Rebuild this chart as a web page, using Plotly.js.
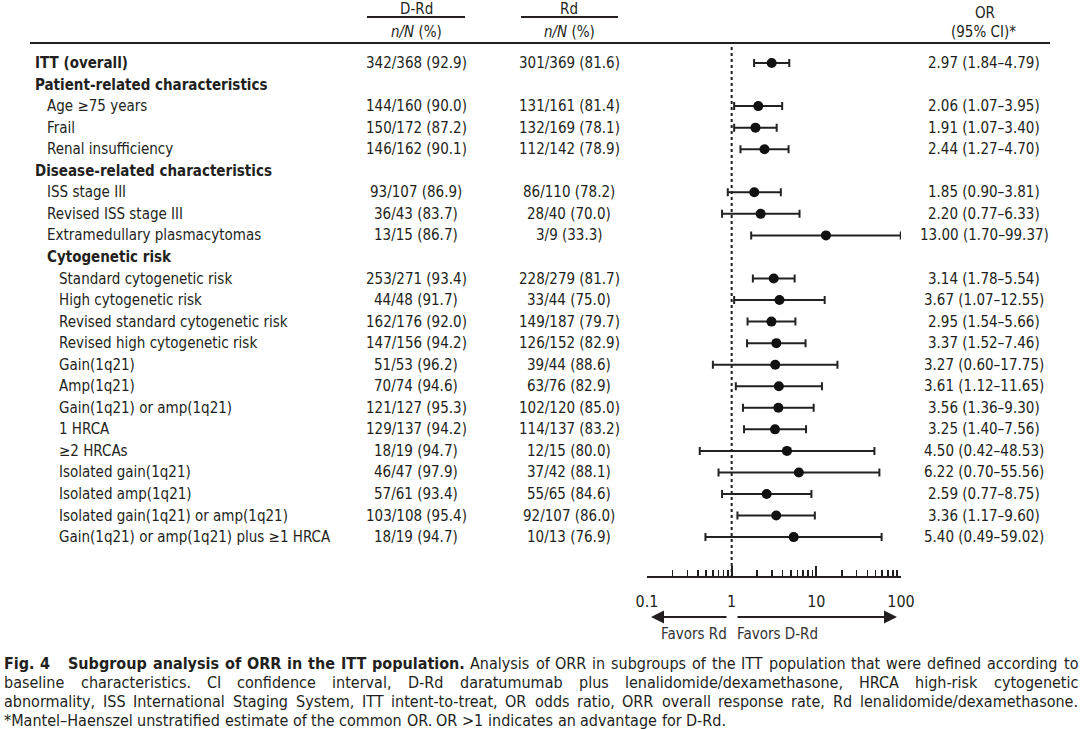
<!DOCTYPE html>
<html><head><meta charset="utf-8">
<script src="https://cdn.plot.ly/plotly-3.0.1.min.js"></script>
<style>html,body{margin:0;padding:0;background:#fff}#chart{width:1080px;height:729px}</style>
</head><body><div id="chart"></div>
<script>
// ---- data ----
const subgroups = ["ITT (overall)","Patient-related characteristics","Age \u226575 years","Frail","Renal insufficiency",
"Disease-related characteristics","ISS stage III","Revised ISS stage III","Extramedullary plasmacytomas",
"Cytogenetic risk","Standard cytogenetic risk","High cytogenetic risk","Revised standard cytogenetic risk",
"Revised high cytogenetic risk","Gain(1q21)","Amp(1q21)","Gain(1q21) or amp(1q21)","1 HRCA","\u22652 HRCAs",
"Isolated gain(1q21)","Isolated amp(1q21)","Isolated gain(1q21) or amp(1q21)","Gain(1q21) or amp(1q21) plus \u22651 HRCA"];
const levels = [0,0,1,1,1,0,1,1,1,1,2,2,2,2,2,2,2,2,2,2,2,2,2];
const isHeader = [true,true,false,false,false,true,false,false,false,true,false,false,false,false,false,false,false,false,false,false,false,false,false];
const drdText = ["342/368 (92.9)","","144/160 (90.0)","150/172 (87.2)","146/162 (90.1)","","93/107 (86.9)","36/43 (83.7)","13/15 (86.7)","",
"253/271 (93.4)","44/48 (91.7)","162/176 (92.0)","147/156 (94.2)","51/53 (96.2)","70/74 (94.6)","121/127 (95.3)","129/137 (94.2)","18/19 (94.7)","46/47 (97.9)","57/61 (93.4)","103/108 (95.4)","18/19 (94.7)"];
const rdText = ["301/369 (81.6)","","131/161 (81.4)","132/169 (78.1)","112/142 (78.9)","","86/110 (78.2)","28/40 (70.0)","3/9 (33.3)","",
"228/279 (81.7)","33/44 (75.0)","149/187 (79.7)","126/152 (82.9)","39/44 (88.6)","63/76 (82.9)","102/120 (85.0)","114/137 (83.2)","12/15 (80.0)","37/42 (88.1)","55/65 (84.6)","92/107 (86.0)","10/13 (76.9)"];
const oddsRatio = [2.97,null,2.06,1.91,2.44,null,1.85,2.20,13.00,null,3.14,3.67,2.95,3.37,3.27,3.61,3.56,3.25,4.50,6.22,2.59,3.36,5.40];
const ciLow = [1.84,null,1.07,1.07,1.27,null,0.90,0.77,1.70,null,1.78,1.07,1.54,1.52,0.60,1.12,1.36,1.40,0.42,0.70,0.77,1.17,0.49];
const ciHigh = [4.79,null,3.95,3.40,4.70,null,3.81,6.33,99.37,null,5.54,12.55,5.66,7.46,17.75,11.65,9.30,7.56,48.53,55.56,8.75,9.60,59.02];
const tickVals = [0.1,1,10,100];
const tickLabels = ["0.1","1","10","100"];
const minorTickVals = [0.2,0.3,0.4,0.5,0.6,0.7,0.8,0.9,2,3,4,5,6,7,8,9,20,30,40,50,60,70,80,90];
const captionLines = [
  [{t:"Fig. 4", b:true, gap:12}, {t:"Subgroup analysis of ORR in the ITT population.", b:true}, {t:"Analysis of ORR in subgroups of the ITT population that were defined according to", b:false}],
  [{t:"baseline characteristics. CI confidence interval, D-Rd daratumumab plus lenalidomide/dexamethasone, HRCA high-risk cytogenetic", b:false}],
  [{t:"abnormality, ISS International Staging System, ITT intent-to-treat, OR odds ratio, ORR overall response rate, Rd lenalidomide/dexamethasone.", b:false}],
  [{t:"*Mantel\u2013Haenszel unstratified estimate of the common OR. OR >1 indicates an advantage for D-Rd.", b:false}]
];
const captionJustify = [true, true, true, false];

// ---- layout helpers ----
const FAMILY = 'DejaVu Sans Condensed';
const FONT = '"DejaVu Sans Condensed", "Liberation Sans Narrow", sans-serif';
const TXT = '#231f20';
const L = 647, R = 901, W = 1080, PB = 576;
const xp = px => (px - L) / (R - L);
const yrow = px => (px - 63) / 21.55;
const yp = px => (PB - px) / PB;

const rows = subgroups.map((_, i) => i);
const fmt = v => v.toFixed(2);
const orText = oddsRatio.map((v, i) => v == null ? "" : fmt(v) + " (" + fmt(ciLow[i]) + "\u2013" + fmt(ciHigh[i]) + ")");

const ann = [];
const indentPx = [33, 45, 57];
const FS = 15;
subgroups.forEach((s, i) => {
  ann.push({xref:'paper', yref:'y', x: xp(indentPx[levels[i]]), y: i, xanchor:'left', yanchor:'middle', showarrow:false,
    text: isHeader[i] ? '<b>' + s + '</b>' : s, font:{family:FONT, size:FS, color:TXT}});
  if (drdText[i]) ann.push({xref:'paper', yref:'y', x: xp(416), y: i, xanchor:'center', yanchor:'middle', showarrow:false, text: drdText[i], font:{family:FONT, size:FS, color:TXT}});
  if (rdText[i]) ann.push({xref:'paper', yref:'y', x: xp(569), y: i, xanchor:'center', yanchor:'middle', showarrow:false, text: rdText[i], font:{family:FONT, size:FS, color:TXT}});
  if (orText[i]) ann.push({xref:'paper', yref:'y', x: xp(984), y: i, xanchor:'center', yanchor:'middle', showarrow:false, text: orText[i], font:{family:FONT, size:FS, color:TXT}});
});
// column headers
const hdr = (x, y, t) => ann.push({xref:'paper', yref:'y', x: xp(x), y: yrow(y), xanchor:'center', yanchor:'middle', showarrow:false, text:t, font:{family:FONT, size:15, color:TXT}, borderpad:0});
hdr(416, 9, 'D-Rd'); hdr(416, 32, '<i>n/N</i> (%)');
hdr(569, 9, 'Rd'); hdr(569, 32, '<i>n/N</i> (%)');
hdr(985, 13, 'OR'); hdr(983, 32, '(95% CI)*');

// arrows and favors text
ann.push({xref:'paper', yref:'paper', x: xp(651), y: yp(617), ax: 77, ay: 0, showarrow:true, arrowhead:2, arrowsize:1.3, arrowwidth:2, arrowcolor:TXT, text:''});
ann.push({xref:'paper', yref:'paper', x: xp(897), y: yp(617), ax: -161, ay: 0, showarrow:true, arrowhead:2, arrowsize:1.3, arrowwidth:2, arrowcolor:TXT, text:''});
ann.push({xref:'paper', yref:'paper', x: xp(729), y: yp(634), xanchor:'right', yanchor:'middle', showarrow:false, text:'Favors Rd', font:{family:FONT, size:15, color:'#333'}});
ann.push({xref:'paper', yref:'paper', x: xp(735), y: yp(634), xanchor:'left', yanchor:'middle', showarrow:false, text:'Favors D-Rd', font:{family:FONT, size:15, color:'#333'}});

// caption, justified by measuring words
const CFS = 16;
const ctx = document.createElement('canvas').getContext('2d');
const measure = (t, b) => { ctx.font = (b ? 'bold ' : '') + CFS + 'px "' + FAMILY + '"'; return ctx.measureText(t).width; };
const capY = [663, 682, 701, 720];
const CL = 3, CR = 1077;
captionLines.forEach((segs, li) => {
  const words = [];
  segs.forEach(s => {
    const ws = s.t.split(' ');
    ws.forEach((w, k) => words.push({t:w, b:s.b, extra: (k === ws.length - 1 && s.gap) ? s.gap : 0}));
  });
  const widths = words.map(w => measure(w.t, w.b));
  const space = measure(' ', false);
  const extraTotal = words.reduce((a, w) => a + w.extra, 0);
  const total = widths.reduce((a, b) => a + b, 0) + extraTotal;
  const gap = captionJustify[li] ? (CR - CL - total) / (words.length - 1) : space;
  let x = CL;
  words.forEach((w, k) => {
    ann.push({xref:'paper', yref:'paper', x: xp(x), y: yp(capY[li]), xanchor:'left', yanchor:'middle', showarrow:false,
      text: w.b ? '<b>' + w.t + '</b>' : w.t, font:{family:FONT, size:CFS, color:TXT}, borderpad:0});
    x += widths[k] + gap + w.extra;
  });
});

const shapes = [
  {type:'line', xref:'paper', yref:'y', x0: xp(367), x1: xp(465), y0: yrow(17), y1: yrow(17), line:{color:TXT, width:2}},
  {type:'line', xref:'paper', yref:'y', x0: xp(521), x1: xp(618), y0: yrow(17), y1: yrow(17), line:{color:TXT, width:2}},
  {type:'line', xref:'paper', yref:'y', x0: xp(30), x1: xp(1050), y0: yrow(43), y1: yrow(43), line:{color:TXT, width:2}}
];

const ptsIdx = rows.filter(i => oddsRatio[i] != null);
const traces = [
  {type:'scatter', mode:'lines', x:[1,1], y:[yrow(47), yrow(576)], line:{color:TXT, width:2, dash:'dot'}, hoverinfo:'skip', showlegend:false},
  {type:'scatter', mode:'markers', x: ptsIdx.map(i => oddsRatio[i]), y: ptsIdx,
   marker:{color:'#111', size:10},
   error_x:{type:'data', symmetric:false, array: ptsIdx.map(i => ciHigh[i] - oddsRatio[i]), arrayminus: ptsIdx.map(i => oddsRatio[i] - ciLow[i]),
     color:'#222', thickness:2, width:4},
   showlegend:false}
];

const layout = {
  width: W, height: 729, paper_bgcolor:'#fff', plot_bgcolor:'rgba(0,0,0,0)',
  margin:{l: L, r: W - R, t: 0, b: 729 - PB, pad: 0},
  showlegend:false,
  xaxis:{type:'log', range:[-1, 2], showgrid:false, zeroline:false, showline:true, linecolor:TXT, linewidth:2,
    ticks:'inside', ticklen:10, tickwidth:2, tickcolor:TXT, tickmode:'array', tickvals: tickVals, ticktext: tickLabels,
    tickfont:{family:FONT, size:16, color:TXT}, ticklabelstandoff: 10,
    minor:{ticks:'inside', ticklen:6, tickwidth:1.5, tickcolor:TXT, tickmode:'array', tickvals: minorTickVals, showgrid:false},
    fixedrange:true},
  yaxis:{range:[yrow(576), yrow(0)], visible:false, fixedrange:true},
  annotations: ann, shapes: shapes
};
Plotly.newPlot('chart', traces, layout, {displayModeBar:false, staticPlot:true});
</script></body></html>
